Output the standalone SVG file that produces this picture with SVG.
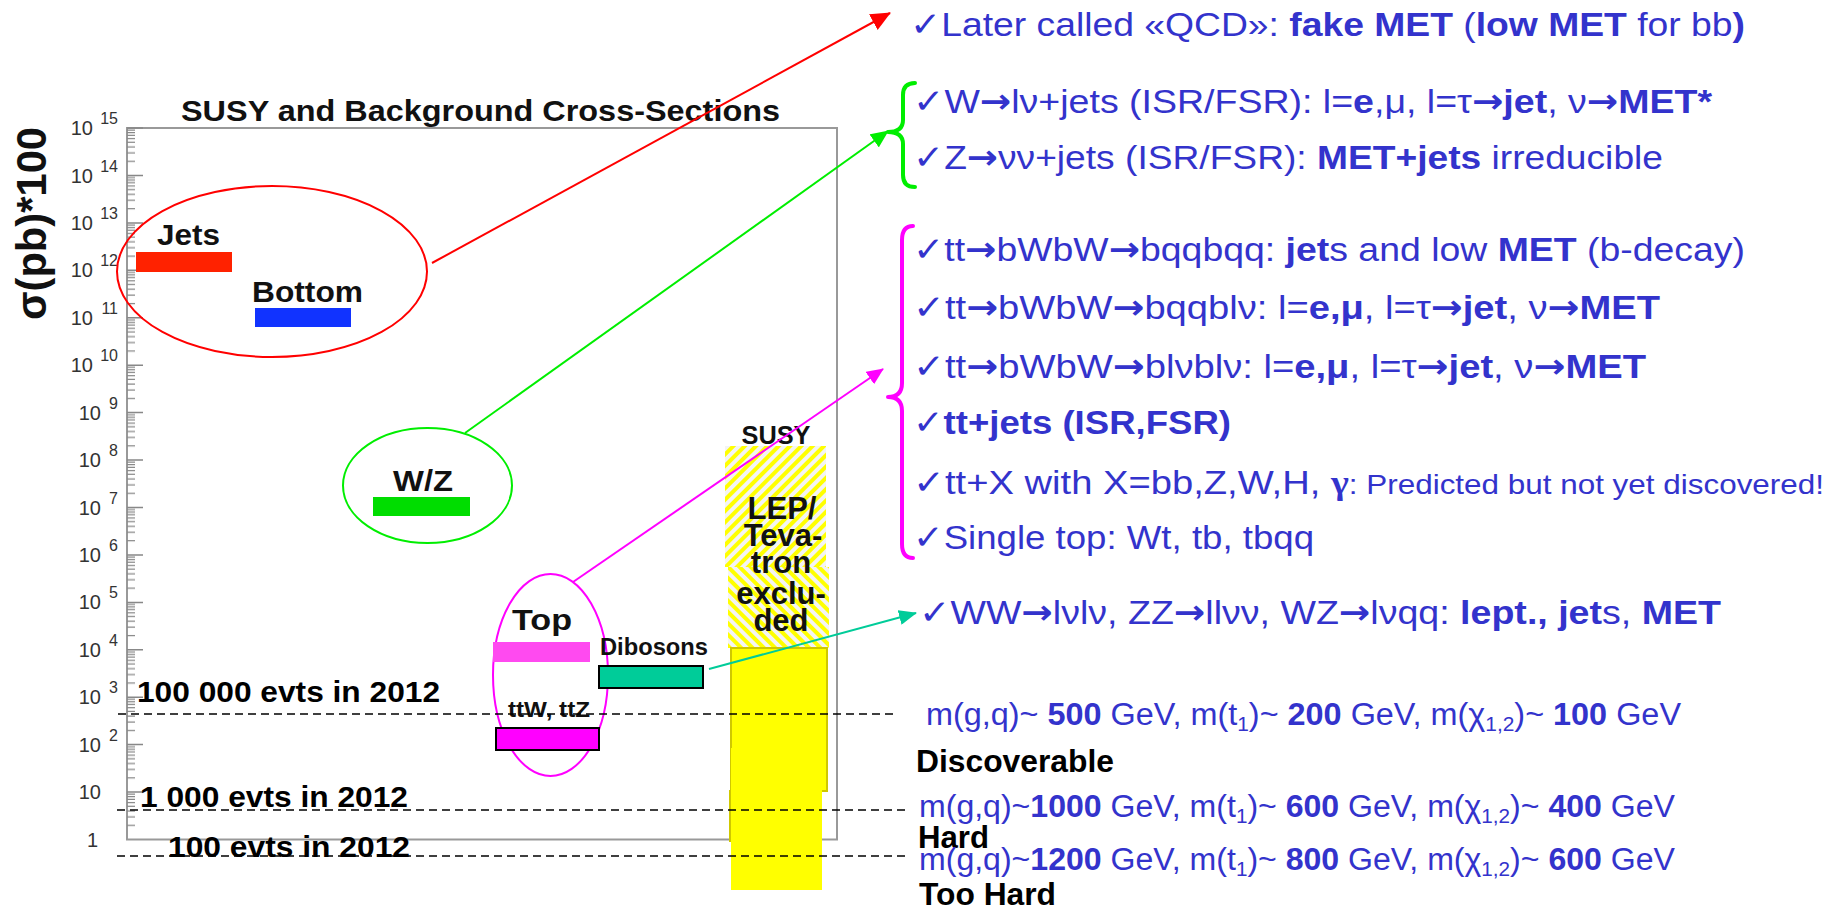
<svg xmlns="http://www.w3.org/2000/svg" width="1832" height="909" viewBox="0 0 1832 909">
<style>
text{font-family:"Liberation Sans",Arial,"DejaVu Sans",sans-serif}
.lbl{font-weight:bold;fill:#111}
.tk{font-size:20px;fill:#333}
.ex{font-size:16px;fill:#333}
.blue{fill:#3333cc;font-size:34px}
.b{font-weight:bold}
.ar{font-family:"DejaVu Sans",sans-serif;font-weight:bold}
.m{font-size:31px}
.sub{font-size:20px}
.sm{font-size:28px}
.blk{fill:#000;font-weight:bold;font-size:31px}
.evts{font-weight:bold;font-size:29px;fill:#000}
.dash{stroke:#000;stroke-width:1.6;stroke-dasharray:8 5;fill:none}
.frame{stroke:#999;stroke-width:2;fill:none}
.conn{stroke-width:2;fill:none}
.bar{stroke:#000;stroke-width:2}
.ell{fill:none;stroke-width:2}
.brace{fill:none;stroke-width:4;stroke-linecap:round;stroke-linejoin:round}
</style>
<defs>
<marker id="ahR" markerUnits="userSpaceOnUse" markerWidth="20" markerHeight="18" refX="19" refY="9" orient="auto"><path d="M0,0 L20,9 L0,18 z" fill="#ff0000"/></marker>
<marker id="ahG" markerUnits="userSpaceOnUse" markerWidth="18" markerHeight="16" refX="17" refY="8" orient="auto"><path d="M0,0 L18,8 L0,16 z" fill="#00ee00"/></marker>
<marker id="ahM" markerUnits="userSpaceOnUse" markerWidth="17" markerHeight="15" refX="16" refY="7.5" orient="auto"><path d="M0,0 L17,7.5 L0,15 z" fill="#ff00ff"/></marker>
<marker id="ahT" markerUnits="userSpaceOnUse" markerWidth="18" markerHeight="15" refX="17" refY="7.5" orient="auto"><path d="M0,0 L18,7.5 L0,15 z" fill="#00cc99"/></marker>
<pattern id="minor" patternUnits="userSpaceOnUse" x="127" y="128.05" width="10" height="47.43">
<path d="M0,2.17h8M0,4.6h8M0,7.35h8M0,10.52h8M0,14.28h8M0,18.87h8M0,24.8h8M0,33.15h8" stroke="#888" stroke-width="1.3"/>
</pattern>
<pattern id="hatchA" patternUnits="userSpaceOnUse" width="8" height="8" patternTransform="rotate(45)"><rect width="8" height="8" fill="#f4f4f4"/><rect width="4" height="8" fill="#ffff00"/></pattern>
<pattern id="hatchB" patternUnits="userSpaceOnUse" width="8" height="8" patternTransform="rotate(-45)"><rect width="8" height="8" fill="#f4f4f4"/><rect width="4" height="8" fill="#ffff00"/></pattern>
</defs>
<rect width="1832" height="909" fill="#fff"/>

<g id="axes">
<text class="lbl" x="181" y="121" font-size="30" textLength="599" lengthAdjust="spacingAndGlyphs">SUSY and Background Cross-Sections</text>
<rect x="127" y="128" width="710" height="711.5" class="frame"/>
<rect x="127" y="128" width="9" height="711.5" fill="url(#minor)"/>
<path d="M127,128.05h16M127,175.5h16M127,222.9h16M127,270.3h16M127,317.8h16M127,365.2h16M127,412.6h16M127,460.1h16M127,507.5h16M127,554.9h16M127,602.4h16M127,649.8h16M127,697.2h16M127,744.6h16M127,792.1h16" stroke="#888" stroke-width="1.5"/>
<g class="tk" text-anchor="end">
<text x="93" y="135">10</text><text x="93" y="182.5">10</text><text x="93" y="230">10</text><text x="93" y="277.3">10</text><text x="93" y="324.8">10</text><text x="93" y="372.2">10</text>
<text x="101" y="419.6">10</text><text x="101" y="467.1">10</text><text x="101" y="514.5">10</text><text x="101" y="561.9">10</text><text x="101" y="609.4">10</text><text x="101" y="656.8">10</text><text x="101" y="704.2">10</text><text x="101" y="751.6">10</text>
<text x="101" y="799.1">10</text><text x="98" y="846.5">1</text>
</g>
<g class="ex" text-anchor="end">
<text x="118" y="124">15</text><text x="118" y="171.5">14</text><text x="118" y="219">13</text><text x="118" y="266.3">12</text><text x="118" y="313.8">11</text><text x="118" y="361.2">10</text>
<text x="118" y="408.6">9</text><text x="118" y="456.1">8</text><text x="118" y="503.5">7</text><text x="118" y="550.9">6</text><text x="118" y="598.4">5</text><text x="118" y="645.8">4</text><text x="118" y="693.2">3</text><text x="118" y="740.6">2</text>
</g>
<text class="lbl" font-size="42" fill="#000" text-anchor="middle" transform="translate(46,223.5) rotate(-90)" textLength="193" lengthAdjust="spacingAndGlyphs">σ(pb)*100</text>
</g>

<g id="node-jets">
<ellipse class="ell" cx="272" cy="271.5" rx="155" ry="85.5" stroke="#ff0000"/>
<rect x="136" y="252" width="96" height="20" fill="#ff2200"/>
<text class="lbl" x="157" y="245" font-size="30" textLength="63" lengthAdjust="spacingAndGlyphs">Jets</text>
<rect x="255" y="308" width="96" height="19" fill="#1133ff"/>
<text class="lbl" x="252" y="302" font-size="30" textLength="111" lengthAdjust="spacingAndGlyphs">Bottom</text>
</g>

<g id="node-wz">
<ellipse class="ell" cx="427.5" cy="485.5" rx="84.5" ry="57.5" stroke="#00ee00"/>
<rect x="373" y="497" width="97" height="19" fill="#00dd00"/>
<text class="lbl" x="393" y="491" font-size="30" textLength="60" lengthAdjust="spacingAndGlyphs">W/Z</text>
</g>

<g id="node-top">
<ellipse class="ell" cx="550.5" cy="675" rx="57.5" ry="101" stroke="#ff00ff"/>
<rect x="493" y="642" width="97" height="20" fill="#ff4af0"/>
<text class="lbl" x="512" y="630" font-size="30" textLength="60" lengthAdjust="spacingAndGlyphs">Top</text>
<rect class="bar" x="496" y="728" width="103" height="22" fill="#ff00ff"/>
<text class="lbl" x="508" y="717" font-size="22" textLength="82" lengthAdjust="spacingAndGlyphs">ttW, ttZ</text>
</g>

<g id="node-dibosons">
<rect class="bar" x="599" y="666" width="104" height="22" fill="#00cc99"/>
<text class="lbl" x="600" y="655" font-size="23" textLength="108" lengthAdjust="spacingAndGlyphs">Dibosons</text>
</g>

<g id="node-susy">
<text class="lbl" x="776" y="444" font-size="25" text-anchor="middle" textLength="69" lengthAdjust="spacingAndGlyphs">SUSY</text>
<rect x="725" y="446" width="101" height="121" fill="url(#hatchA)"/>
<rect x="728" y="567" width="101" height="81" fill="url(#hatchB)"/>
<rect x="731" y="648" width="96" height="143" fill="#ffff00" stroke="#cfc800" stroke-width="2"/>
<rect x="729" y="790" width="5" height="52" fill="#cfc800"/>
<rect x="731" y="748" width="91" height="142" fill="#ffff00"/>
<g class="lbl" font-size="31" text-anchor="middle">
<text x="782" y="519">LEP/</text>
<text x="783" y="546">Teva-</text>
<text x="781" y="573">tron</text>
<text x="781" y="604">exclu-</text>
<text x="781" y="631">ded</text>
</g>
</g>

<g id="thresholds">
<path class="dash" d="M118,714H895M117,810H906M117,856H906"/>
<text class="evts" x="137" y="702" textLength="303" lengthAdjust="spacingAndGlyphs">100 000 evts in 2012</text>
<text class="evts" x="140" y="807" textLength="268" lengthAdjust="spacingAndGlyphs">1 000 evts in 2012</text>
<text class="evts" x="168" y="857" textLength="242" lengthAdjust="spacingAndGlyphs">100 evts in 2012</text>
</g>

<g id="connectors">
<line class="conn" x1="432" y1="263" x2="890" y2="13" stroke="#ff0000" marker-end="url(#ahR)"/>
<line class="conn" x1="465" y1="433" x2="888" y2="131" stroke="#00ee00" marker-end="url(#ahG)"/>
<line class="conn" x1="573" y1="582" x2="883" y2="369" stroke="#ff00ff" marker-end="url(#ahM)"/>
<line class="conn" x1="709" y1="669" x2="916" y2="613" stroke="#00cc99" marker-end="url(#ahT)"/>
</g>

<g id="text-qcd">
<text class="blue" x="910" y="36" textLength="835" lengthAdjust="spacingAndGlyphs">✓Later called «QCD»: <tspan class="b">fake MET</tspan> (<tspan class="b">low MET</tspan> for bb<tspan class="b">)</tspan></text>
</g>

<g id="text-wz">
<path class="brace" stroke="#00ee00" d="M915,83 Q903,83 903,95 L903,120 Q903,132 888,132 Q903,132 903,144 L903,175 Q903,187 915,187"/>
<text class="blue" x="913" y="113" textLength="799" lengthAdjust="spacingAndGlyphs">✓W<tspan class="ar">→</tspan>lν+jets (ISR/FSR): l=<tspan class="b">e</tspan>,μ, l=τ<tspan class="ar">→</tspan><tspan class="b">jet</tspan>, ν<tspan class="ar">→</tspan><tspan class="b">MET*</tspan></text>
<text class="blue" x="913" y="169" textLength="750" lengthAdjust="spacingAndGlyphs">✓Z<tspan class="ar">→</tspan>νν+jets (ISR/FSR): <tspan class="b">MET+jets</tspan> irreducible</text>
</g>

<g id="text-top">
<path class="brace" stroke="#ff00ff" d="M913,226 Q902,226 902,240 L902,383 Q902,397 888,397 Q902,397 902,411 L902,544 Q902,558 913,558"/>
<text class="blue" x="913" y="261" textLength="832" lengthAdjust="spacingAndGlyphs">✓tt<tspan class="ar">→</tspan>bWbW<tspan class="ar">→</tspan>bqqbqq: <tspan class="b">jet</tspan>s and low <tspan class="b">MET</tspan> (b-decay)</text>
<text class="blue" x="913" y="319" textLength="747" lengthAdjust="spacingAndGlyphs">✓tt<tspan class="ar">→</tspan>bWbW<tspan class="ar">→</tspan>bqqblν: l=<tspan class="b">e,μ</tspan>, l=τ<tspan class="ar">→</tspan><tspan class="b">jet</tspan>, ν<tspan class="ar">→</tspan><tspan class="b">MET</tspan></text>
<text class="blue" x="913" y="378" textLength="733" lengthAdjust="spacingAndGlyphs">✓tt<tspan class="ar">→</tspan>bWbW<tspan class="ar">→</tspan>blνblν: l=<tspan class="b">e,μ</tspan>, l=τ<tspan class="ar">→</tspan><tspan class="b">jet</tspan>, ν<tspan class="ar">→</tspan><tspan class="b">MET</tspan></text>
<text class="blue" x="913" y="434" textLength="318" lengthAdjust="spacingAndGlyphs">✓<tspan class="b">tt+jets (ISR,FSR)</tspan></text>
<text class="blue" x="913" y="494" textLength="911" lengthAdjust="spacingAndGlyphs">✓tt+X with X=bb,Z,W,H, <tspan class="b" font-family="Liberation Serif,serif">γ</tspan><tspan class="sm">: Predicted but not yet discovered!</tspan></text>
<text class="blue" x="913" y="549" textLength="401" lengthAdjust="spacingAndGlyphs">✓Single top: Wt, tb, tbqq</text>
</g>

<g id="text-dibosons">
<text class="blue" x="919" y="624" textLength="802" lengthAdjust="spacingAndGlyphs">✓WW<tspan class="ar">→</tspan>lνlν, ZZ<tspan class="ar">→</tspan>llνν, WZ<tspan class="ar">→</tspan>lνqq: <tspan class="b">lept., jet</tspan>s, <tspan class="b">MET</tspan></text>
</g>

<g id="text-masses">
<text class="blue m" x="926" y="725" textLength="755" lengthAdjust="spacingAndGlyphs">m(g,q)~  <tspan class="b">500</tspan> GeV, m(t<tspan class="sub" dy="6">1</tspan><tspan dy="-6">)~ </tspan><tspan class="b">200</tspan> GeV, m(χ<tspan class="sub" dy="6">1,2</tspan><tspan dy="-6">)~ </tspan><tspan class="b">100</tspan> GeV</text>
<text class="blk" x="916" y="772" textLength="198" lengthAdjust="spacingAndGlyphs">Discoverable</text>
<text class="blue m" x="919" y="817" textLength="756" lengthAdjust="spacingAndGlyphs">m(g,q)~<tspan class="b">1000</tspan> GeV, m(t<tspan class="sub" dy="6">1</tspan><tspan dy="-6">)~ </tspan><tspan class="b">600</tspan> GeV, m(χ<tspan class="sub" dy="6">1,2</tspan><tspan dy="-6">)~ </tspan><tspan class="b">400</tspan> GeV</text>
<text class="blk" x="918" y="848" textLength="71" lengthAdjust="spacingAndGlyphs">Hard</text>
<text class="blue m" x="919" y="870" textLength="756" lengthAdjust="spacingAndGlyphs">m(g,q)~<tspan class="b">1200</tspan> GeV, m(t<tspan class="sub" dy="6">1</tspan><tspan dy="-6">)~ </tspan><tspan class="b">800</tspan> GeV, m(χ<tspan class="sub" dy="6">1,2</tspan><tspan dy="-6">)~ </tspan><tspan class="b">600</tspan> GeV</text>
<text class="blk" x="919" y="905" textLength="137" lengthAdjust="spacingAndGlyphs">Too Hard</text>
</g>
</svg>
